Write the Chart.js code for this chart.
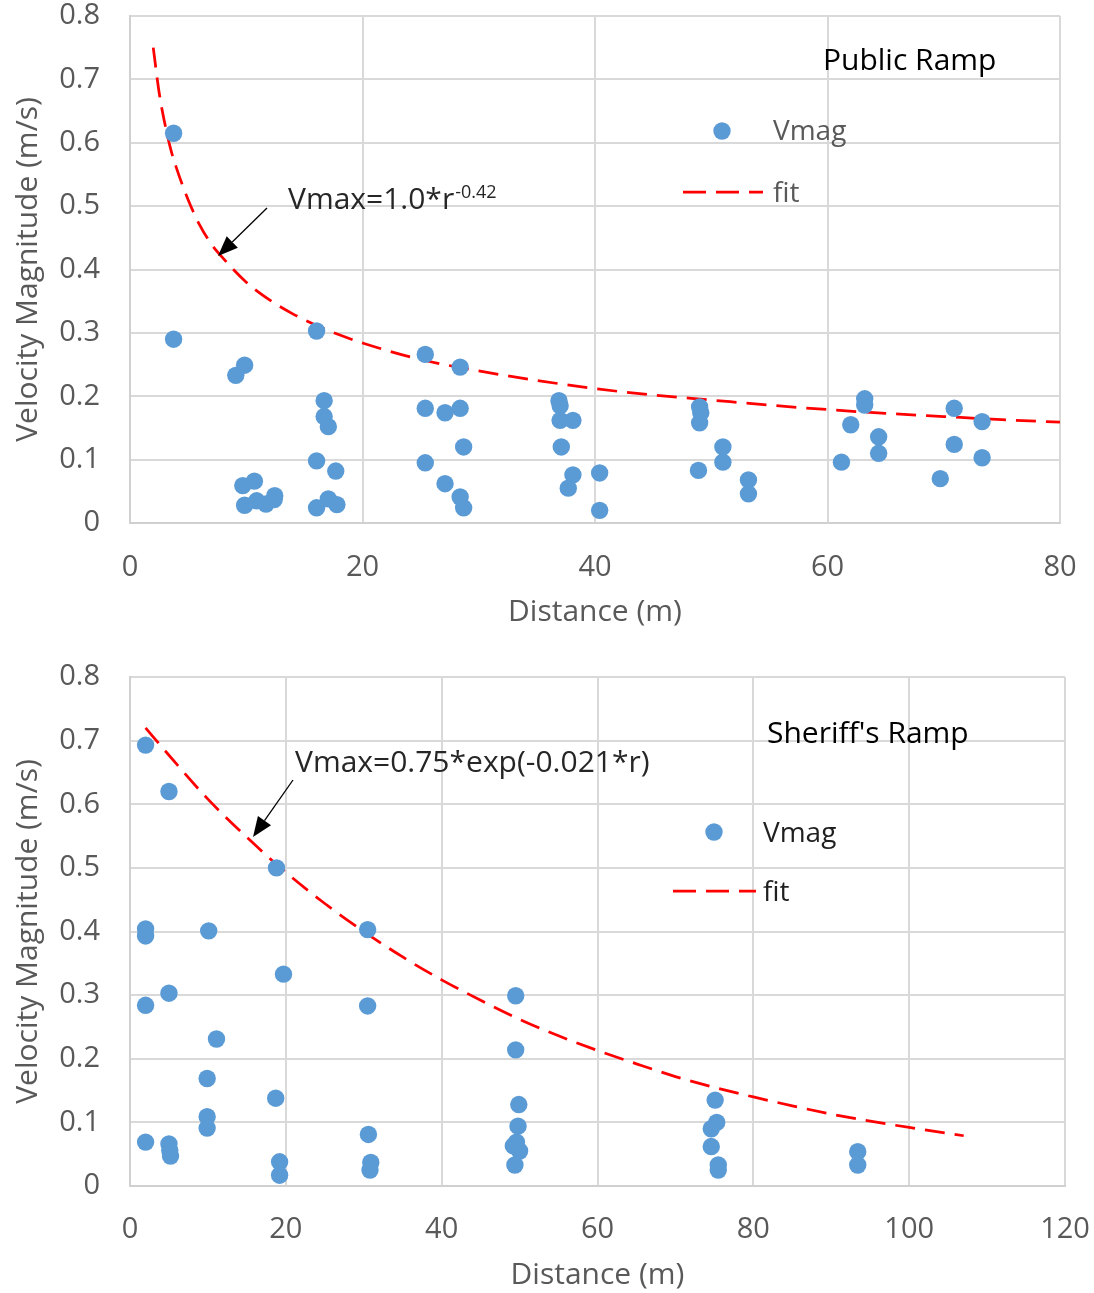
<!DOCTYPE html>
<html>
<head>
<meta charset="utf-8">
<script src="https://cdn.jsdelivr.net/npm/chart.js@4.4.1/dist/chart.umd.min.js"></script>
<style>
  body { margin: 0; background: #fff; }
  #wrap { position: relative; width: 1094px; height: 1293px; }
  canvas { position: absolute; left: 0; }
  #publicChart { top: 0; }
  #sheriffChart { top: 645px; }
</style>
</head>
<body>
<div id="wrap">
  <canvas id="publicChart" width="1094" height="645"></canvas>
  <canvas id="sheriffChart" width="1094" height="648"></canvas>
</div>
<script>
// Public Ramp - medidas
const publicDist = [3.75, 3.75, 9.86, 9.1, 9.7, 10.7, 9.86, 10.9, 11.7, 12.45, 12.4,
  16.05, 16.7, 16.7, 17.06, 16.05, 17.7, 16.05, 17.06, 17.8,
  25.4, 28.4, 25.4, 27.1, 28.4, 28.7, 25.4, 27.1, 28.4, 28.7,
  36.9, 37.0, 37.0, 38.1, 37.1, 38.1, 37.7, 40.4, 40.4,
  49.0, 49.1, 49.0, 51.0, 51.0, 48.9, 53.2, 53.2,
  63.2, 63.2, 62.0, 64.4, 64.4, 61.2,
  70.9, 70.9, 69.7, 73.3, 73.3];
const publicVmag = [0.615, 0.29, 0.249, 0.233, 0.059, 0.066, 0.028, 0.035, 0.030, 0.043, 0.037,
  0.303, 0.193, 0.168, 0.152, 0.098, 0.082, 0.024, 0.038, 0.029,
  0.266, 0.246, 0.181, 0.174, 0.181, 0.12, 0.095, 0.062, 0.041, 0.024,
  0.193, 0.185, 0.162, 0.162, 0.12, 0.076, 0.055, 0.079, 0.02,
  0.183, 0.174, 0.158, 0.12, 0.096, 0.083, 0.068, 0.046,
  0.196, 0.186, 0.155, 0.136, 0.11, 0.096,
  0.181, 0.124, 0.07, 0.16, 0.103];
const publicFitDist = [2, 2.5, 3, 3.5, 4, 5, 6, 7, 8, 10, 12, 14, 16, 18, 20, 25, 30, 35, 40, 45, 50, 55, 60, 65, 70, 75, 80];
const publicFitV = [0.75, 0.68, 0.63, 0.59, 0.56, 0.51, 0.47, 0.44, 0.418, 0.38, 0.352, 0.33, 0.312, 0.297, 0.284,
  0.258, 0.24, 0.225, 0.212, 0.202, 0.194, 0.186, 0.179, 0.173, 0.168, 0.163, 0.159];

// Sheriff's Ramp - medidas
const sheriffDist = [2.0, 5.0, 18.8, 2.0, 2.0, 10.1, 30.5, 19.7, 5.0, 2.0, 30.5, 11.1,
  49.5, 49.5, 9.9, 9.9, 9.9, 18.7, 2.0, 5.0, 5.1, 5.2, 30.6, 19.2, 19.2, 30.9, 30.8,
  49.9, 49.8, 49.6, 49.2, 50.0, 49.4,
  75.1, 75.3, 74.6, 74.6, 75.5, 75.5, 93.4, 93.4];
const sheriffVmag = [0.693, 0.62, 0.5, 0.404, 0.393, 0.401, 0.403, 0.333, 0.303, 0.284, 0.283, 0.231,
  0.299, 0.214, 0.169, 0.109, 0.091, 0.138, 0.069, 0.066, 0.056, 0.047, 0.081, 0.038, 0.017, 0.037, 0.025,
  0.128, 0.094, 0.069, 0.063, 0.055, 0.033,
  0.135, 0.1, 0.09, 0.062, 0.033, 0.025, 0.054, 0.033];
const sheriffFitDist = [2, 5, 10, 15, 20, 25, 30, 35, 40, 45, 50, 55, 60, 65, 70, 75, 80, 85, 90, 95, 100, 107];
const sheriffFitV = [0.72, 0.677, 0.608, 0.548, 0.493, 0.444, 0.40, 0.36, 0.324, 0.292, 0.262, 0.236, 0.213,
  0.192, 0.172, 0.155, 0.14, 0.126, 0.113, 0.102, 0.092, 0.079];

const yTicks = [0, 0.1, 0.2, 0.3, 0.4, 0.5, 0.6, 0.7, 0.8];

Chart.defaults.font.family = '"Open Sans", "Noto Sans", sans-serif';
Chart.defaults.color = '#595959';

function toPoints(xs, ys) {
  return xs.map((x, i) => ({ x: x, y: ys[i] }));
}

function drawArrow(ctx, x1, y1, x2, y2) {
  const ang = Math.atan2(y2 - y1, x2 - x1);
  const len = 20, half = 8;
  const bx = x2 - len * Math.cos(ang), by = y2 - len * Math.sin(ang);
  ctx.strokeStyle = '#000';
  ctx.lineWidth = 1.3;
  ctx.beginPath();
  ctx.moveTo(x1, y1);
  ctx.lineTo(bx, by);
  ctx.stroke();
  ctx.fillStyle = '#000';
  ctx.beginPath();
  ctx.moveTo(x2, y2);
  ctx.lineTo(bx + half * Math.sin(ang), by - half * Math.cos(ang));
  ctx.lineTo(bx - half * Math.sin(ang), by + half * Math.cos(ang));
  ctx.closePath();
  ctx.fill();
}

// textos, leyenda y flecha
const notesPlugin = {
  id: 'notes',
  afterDraw(chart, args, o) {
    const ctx = chart.ctx;
    ctx.save();
    ctx.textAlign = 'left';
    ctx.textBaseline = 'alphabetic';
    ctx.fillStyle = '#000';
    ctx.font = '30px "Open Sans"';
    ctx.fillText(o.title, o.titleX, o.titleY);

    ctx.fillStyle = '#5B9BD5';
    ctx.beginPath();
    ctx.arc(o.dotX, o.dotY, 8.7, 0, Math.PI * 2);
    ctx.fill();
    ctx.strokeStyle = '#FF0000';
    ctx.lineWidth = 2.75;
    ctx.setLineDash([23, 10]);
    ctx.beginPath();
    ctx.moveTo(o.dashX1, o.dashY);
    ctx.lineTo(o.dashX2, o.dashY);
    ctx.stroke();
    ctx.setLineDash([]);

    ctx.fillStyle = o.legendColor;
    ctx.font = '28px "Open Sans"';
    ctx.fillText('Vmag', o.textX, o.vmagY);
    ctx.fillText('fit', o.textX, o.fitY);

    ctx.fillStyle = '#262626';
    ctx.font = '30px "Open Sans"';
    ctx.fillText(o.eq, o.eqX, o.eqY);
    if (o.sup) {
      const w = ctx.measureText(o.eq).width;
      ctx.font = '18px "Open Sans"';
      ctx.fillText(o.sup, o.eqX + w + 1, o.eqY - 11);
    }
    drawArrow(ctx, o.arrow[0], o.arrow[1], o.arrow[2], o.arrow[3]);
    ctx.restore();
  }
};

function makeChart(id, cfg) {
  return new Chart(document.getElementById(id), {
    type: 'scatter',
    data: {
      datasets: [{
        label: 'Vmag',
        data: toPoints(cfg.dist, cfg.vmag),
        backgroundColor: '#5B9BD5',
        borderWidth: 0,
        pointRadius: 8.7,
        pointHoverRadius: 8.7
      }, {
        label: 'fit',
        data: toPoints(cfg.fitDist, cfg.fitV),
        showLine: true,
        borderColor: '#FF0000',
        borderWidth: 2.75,
        borderDash: [20, 10],
        pointRadius: 0,
        cubicInterpolationMode: 'monotone',
        fill: false
      }]
    },
    options: {
      responsive: false,
      animation: false,
      layout: { padding: cfg.padding },
      scales: {
        x: {
          type: 'linear',
          min: 0,
          max: cfg.xMax,
          afterFit: function (s) { s.height = cfg.xHeight; s.paddingLeft = 0; s.paddingRight = 0; },
          grid: { color: '#D9D9D9', lineWidth: 2, drawTicks: false },
          border: { color: '#D0D0D0', width: 2 },
          ticks: { stepSize: 20, padding: cfg.xTickPad, font: { size: 29 }, maxRotation: 0 },
          title: { display: true, text: 'Distance (m)', font: { size: 30 }, padding: { top: 0, bottom: cfg.xTitlePad } }
        },
        y: {
          min: 0,
          max: 0.8,
          afterFit: function (s) { s.width = 130; s.paddingTop = 0; s.paddingBottom = 0; },
          afterBuildTicks: function (s) { s.ticks = yTicks.map(v => ({ value: v })); },
          grid: { color: '#D9D9D9', lineWidth: 2, drawTicks: false },
          border: { color: '#D0D0D0', width: 2 },
          ticks: {
            padding: 30,
            font: { size: 29 },
            callback: function (v) { return String(Math.round(v * 10) / 10); }
          },
          title: { display: true, text: 'Velocity Magnitude (m/s)', font: { size: 30 }, padding: { top: 10, bottom: 0 } }
        }
      },
      plugins: {
        legend: { display: false },
        tooltip: { enabled: false },
        notes: cfg.notes
      }
    },
    plugins: [notesPlugin]
  });
}

makeChart('publicChart', {
  dist: publicDist, vmag: publicVmag, fitDist: publicFitDist, fitV: publicFitV,
  xMax: 80, xHeight: 122, xTickPad: 27, xTitlePad: 15,
  padding: { top: 16, right: 34, bottom: 0, left: 0 },
  notes: {
    title: 'Public Ramp', titleX: 823, titleY: 70,
    dotX: 722, dotY: 131, dashX1: 683, dashX2: 763, dashY: 192,
    textX: 773, vmagY: 140, fitY: 202, legendColor: '#595959',
    eq: 'Vmax=1.0*r', sup: '-0.42', eqX: 288, eqY: 209,
    arrow: [267, 208, 218, 256]
  }
});

makeChart('sheriffChart', {
  dist: sheriffDist, vmag: sheriffVmag, fitDist: sheriffFitDist, fitV: sheriffFitV,
  xMax: 120, xHeight: 107, xTickPad: 26, xTitlePad: 0,
  padding: { top: 32, right: 29, bottom: 0, left: 0 },
  notes: {
    title: "Sheriff's Ramp", titleX: 767, titleY: 98,
    dotX: 714, dotY: 187, dashX1: 673, dashX2: 756, dashY: 246,
    textX: 763, vmagY: 197, fitY: 256, legendColor: '#1F1F1F',
    eq: 'Vmax=0.75*exp(-0.021*r)', sup: '', eqX: 295, eqY: 127,
    arrow: [293, 135, 253, 192]
  }
});
</script>
</body>
</html>
